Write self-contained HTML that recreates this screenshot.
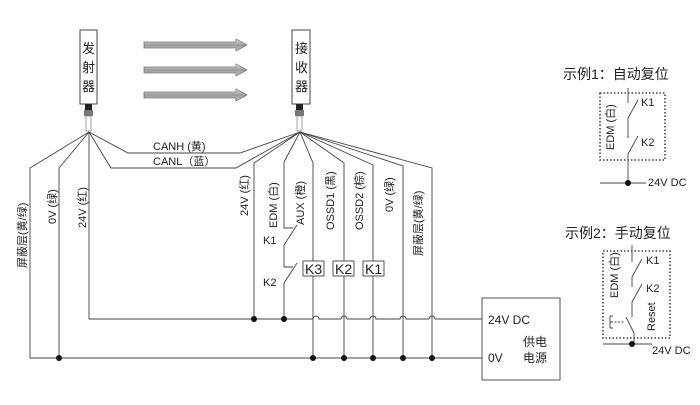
<!DOCTYPE html>
<html><head><meta charset="utf-8"><style>
body{margin:0;background:#fff}
svg text{font-family:"Liberation Sans","Noto Sans CJK SC",sans-serif;fill:#222}
</style></head><body>
<svg width="700" height="400" viewBox="0 0 700 400" xmlns="http://www.w3.org/2000/svg">
<defs>
<linearGradient id="g" x1="0" y1="0" x2="0" y2="1"><stop offset="0" stop-color="#eee"/><stop offset="0.5" stop-color="#999"/><stop offset="1" stop-color="#ccc"/></linearGradient>
</defs>
<g stroke="#444" stroke-width="1" fill="none">
<rect x="80" y="30" width="17" height="74" fill="#fff"/>
<rect x="292" y="30" width="18" height="74" fill="#fff"/>
</g>
<rect x="85" y="104" width="7" height="6" fill="#222"/><rect x="84" y="110" width="9" height="6" fill="#777"/>
<rect x="86" y="116" width="5" height="15" fill="#fff" stroke="#666" stroke-width="0.6"/>
<rect x="296" y="104" width="7" height="6" fill="#222"/><rect x="295" y="110" width="9" height="6" fill="#777"/>
<rect x="297" y="116" width="5" height="15" fill="#fff" stroke="#666" stroke-width="0.6"/>
<g font-size="13"><text x="82" y="53">发</text><text x="82" y="72">射</text><text x="82" y="91">器</text>
<text x="295" y="53">接</text><text x="295" y="72">收</text><text x="295" y="91">器</text></g>
<g fill="url(#g)" stroke="#777" stroke-width="0.8">
<path d="M144 42h92v-3l11 6-11 6v-3h-92z"/>
<path d="M144 67h92v-3l11 6-11 6v-3h-92z"/>
<path d="M144 92h92v-3l11 6-11 6v-3h-92z"/>
</g>
<g stroke="#444" stroke-width="0.9" fill="none">
<path d="M89 132L30 168V358H482"/>
<path d="M89 132L59 168V358"/>
<path d="M89 132V319H313a3 3 0 0 1 6 0H341a3 3 0 0 1 6 0H370a3 3 0 0 1 6 0H400a3 3 0 0 1 6 0H429a3 3 0 0 1 6 0H482"/>
<path d="M89 132L128 153H240L300 132"/>
<path d="M89 132L111 168H236L300 132"/>
<path d="M300 132L254 163V319"/>
<path d="M300 132L284 162V228H293M297 225L284 245V267H293M297 263L284 283V319"/>
<path d="M300 132L313 163V358"/>
<path d="M300 132L344 163V358"/>
<path d="M300 132L373 165V358"/>
<path d="M300 132L403 166V358"/>
<path d="M300 132L432 168V358"/>
<rect x="482" y="298" width="78" height="82"/>
<rect x="600" y="93" width="65" height="67" stroke-dasharray="1.5 2" stroke-width="1.6"/>
<path d="M628 88V103M638 100L628 118V138M638 136L628 154V183M600 183H646"/>
<rect x="603" y="251" width="67" height="87" stroke-dasharray="1.5 2" stroke-width="1.6"/>
<path d="M632 245V262M642 259L632 277V287M642 284L632 302V317M626 317L634 333V344M603 344H652"/>
<path d="M611 322H624" stroke-dasharray="2 1.5"/>
<path d="M610 316V328M610 316H613M610 322H612M610 328H613"/>
</g>
<g fill="#111">
<circle cx="59" cy="358" r="3"/><circle cx="254" cy="319" r="3"/><circle cx="284" cy="319" r="3"/>
<circle cx="313" cy="358" r="3"/><circle cx="344" cy="358" r="3"/><circle cx="373" cy="358" r="3"/><circle cx="403" cy="358" r="3"/><circle cx="432" cy="358" r="3"/>
<circle cx="628" cy="183" r="3"/><circle cx="632" cy="344" r="3"/>
</g>
<g fill="#fff" stroke="#444" stroke-width="0.9">
<rect x="303" y="261" width="21" height="15"/><rect x="333" y="261" width="21" height="15"/><rect x="363" y="261" width="21" height="15"/>
</g>
<g font-size="14"><text x="305" y="274">K3</text><text x="335" y="274">K2</text><text x="365" y="274">K1</text></g>
<g font-size="11">
<text x="153" y="150">CANH (黄)</text><text x="153" y="165">CANL（蓝）</text>
<text x="263" y="244">K1</text><text x="263" y="286">K2</text>
<text x="488" y="324" font-size="12">24V DC</text><text x="488" y="362" font-size="12">0V</text>
<text x="523" y="346" font-size="12">供电</text><text x="523" y="362" font-size="12">电源</text>
<text x="563" y="79" font-size="14">示例1：自动复位</text>
<text x="565" y="238" font-size="14">示例2：手动复位</text>
<text x="641" y="106">K1</text><text x="641" y="146">K2</text><text x="648" y="186">24V DC</text>
<text x="646" y="264">K1</text><text x="646" y="292">K2</text><text x="652" y="354">24V DC</text>
</g>
<g font-size="11">
<text transform="translate(26,268) rotate(-90)">屏蔽层(黄/绿)</text>
<text transform="translate(56,224) rotate(-90)">0V (绿)</text>
<text transform="translate(86,228) rotate(-90)">24V (红)</text>
<text transform="translate(248,216) rotate(-90)">24V (红)</text>
<text transform="translate(277,228) rotate(-90)">EDM (白)</text>
<text transform="translate(304,225) rotate(-90)">AUX (橙)</text>
<text transform="translate(334,230) rotate(-90)">OSSD1 (黑)</text>
<text transform="translate(363,230) rotate(-90)">OSSD2 (棕)</text>
<text transform="translate(393,212) rotate(-90)">0V (绿)</text>
<text transform="translate(422,256) rotate(-90)">屏蔽层(黄/绿)</text>
<text transform="translate(614,150) rotate(-90)">EDM (白)</text>
<text transform="translate(618,298) rotate(-90)">EDM (白)</text>
<text transform="translate(655,331) rotate(-90)">Reset</text>
</g>
</svg>
</body></html>
